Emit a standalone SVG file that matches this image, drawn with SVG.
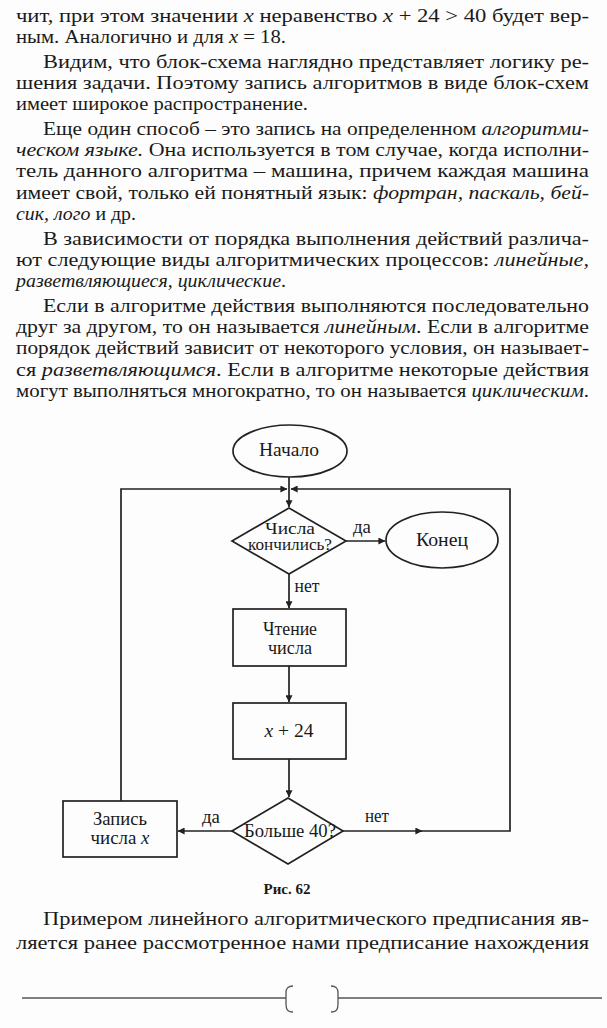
<svg xmlns="http://www.w3.org/2000/svg" width="607" height="1028" viewBox="0 0 607 1028">
<defs>
<style>
.body{font-family:"Liberation Serif","Times New Roman",serif;font-size:18.5px;fill:#1a1a1a}
.it{font-style:italic}
.lbl{font-family:"Liberation Serif","Times New Roman",serif;font-size:19px;fill:#1a1a1a;text-anchor:middle}
.sm{font-size:18px}
.xs{font-size:16px}
.shape{fill:none;stroke:#222;stroke-width:1.7}
.conn{fill:none;stroke:#222;stroke-width:1.7}
.cap{font-family:"Liberation Serif","Times New Roman",serif;font-size:15px;font-weight:bold;fill:#1a1a1a;text-anchor:middle}
.rule{fill:none;stroke:#555;stroke-width:1.3}
</style>
<marker id="ah" viewBox="0 0 10 10" refX="9.5" refY="5" markerWidth="9" markerHeight="7" markerUnits="userSpaceOnUse" orient="auto">
<path d="M0,0 L10,5 L0,10 z" fill="#222"/>
</marker>
</defs>
<rect width="607" height="1028" fill="#fdfdfd"/>

<g id="text-top" class="body">
<text x="16" y="22" textLength="573" lengthAdjust="spacingAndGlyphs">чит, при этом значении <tspan class="it">x</tspan> неравенство <tspan class="it">x</tspan> + 24 &gt; 40 будет вер-</text>
<text x="16" y="43" textLength="270" lengthAdjust="spacingAndGlyphs">ным. Аналогично и для <tspan class="it">x</tspan> = 18.</text>
<text x="43" y="68" textLength="546" lengthAdjust="spacingAndGlyphs">Видим, что блок-схема наглядно представляет логику ре-</text>
<text x="16" y="89" textLength="573" lengthAdjust="spacingAndGlyphs">шения задачи. Поэтому запись алгоритмов в виде блок-схем</text>
<text x="16" y="110" textLength="292" lengthAdjust="spacingAndGlyphs">имеет широкое распространение.</text>
<text x="43" y="135" textLength="546" lengthAdjust="spacingAndGlyphs">Еще один способ – это запись на определенном <tspan class="it">алгоритми-</tspan></text>
<text x="16" y="156" textLength="573" lengthAdjust="spacingAndGlyphs"><tspan class="it">ческом языке.</tspan> Она используется в том случае, когда исполни-</text>
<text x="16" y="177" textLength="573" lengthAdjust="spacingAndGlyphs">тель данного алгоритма – машина, причем каждая машина</text>
<text x="16" y="199" textLength="573" lengthAdjust="spacingAndGlyphs">имеет свой, только ей понятный язык: <tspan class="it">фортран, паскаль, бей-</tspan></text>
<text x="16" y="220" textLength="120" lengthAdjust="spacingAndGlyphs"><tspan class="it">сик, лого</tspan> и др.</text>
<text x="43" y="245" textLength="546" lengthAdjust="spacingAndGlyphs">В зависимости от порядка выполнения действий различа-</text>
<text x="16" y="266" textLength="573" lengthAdjust="spacingAndGlyphs">ют следующие виды алгоритмических процессов: <tspan class="it">линейные,</tspan></text>
<text x="16" y="287" textLength="270" lengthAdjust="spacingAndGlyphs"><tspan class="it">разветвляющиеся, циклические</tspan>.</text>
<text x="43" y="312" textLength="546" lengthAdjust="spacingAndGlyphs">Если в алгоритме действия выполняются последовательно</text>
<text x="16" y="333" textLength="573" lengthAdjust="spacingAndGlyphs">друг за другом, то он называется <tspan class="it">линейным</tspan>. Если в алгоритме</text>
<text x="16" y="354" textLength="573" lengthAdjust="spacingAndGlyphs">порядок действий зависит от некоторого условия, он называет-</text>
<text x="16" y="376" textLength="573" lengthAdjust="spacingAndGlyphs">ся <tspan class="it">разветвляющимся</tspan>. Если в алгоритме некоторые действия</text>
<text x="16" y="397" textLength="573" lengthAdjust="spacingAndGlyphs">могут выполняться многократно, то он называется <tspan class="it">циклическим</tspan>.</text>
</g>

<g id="connectors">
<path class="conn" d="M289,477 L289,507" marker-end="url(#ah)"/>
<path class="conn" d="M121,801 L121,489 L287,489" marker-end="url(#ah)"/>
<path class="conn" d="M343,831 L422,831" marker-end="url(#ah)"/>
<path class="conn" d="M420,831 L510,831 L510,489 L291,489" marker-end="url(#ah)"/>
<path class="conn" d="M346,541 L385,541" marker-end="url(#ah)"/>
<path class="conn" d="M289,573 L289,608" marker-end="url(#ah)"/>
<path class="conn" d="M289,666 L289,702" marker-end="url(#ah)"/>
<path class="conn" d="M289,759 L289,797" marker-end="url(#ah)"/>
<path class="conn" d="M232,831 L178,831" marker-end="url(#ah)"/>
<text class="lbl sm" x="362" y="533" textLength="18" lengthAdjust="spacingAndGlyphs">да</text>
<text class="lbl sm" x="307" y="592" textLength="25" lengthAdjust="spacingAndGlyphs">нет</text>
<text class="lbl sm" x="211" y="823" textLength="18" lengthAdjust="spacingAndGlyphs">да</text>
<text class="lbl sm" x="377" y="822" textLength="24" lengthAdjust="spacingAndGlyphs">нет</text>
</g>

<g id="start">
<ellipse class="shape" cx="290" cy="451" rx="57" ry="26"/>
<text class="lbl" x="289" y="456" textLength="60" lengthAdjust="spacingAndGlyphs">Начало</text>
</g>

<g id="check-end">
<polygon class="shape" points="289,508 346,541 289,574 232,541"/>
<text class="lbl xs" x="290" y="534" textLength="50" lengthAdjust="spacingAndGlyphs">Числа</text>
<text class="lbl xs" x="290" y="550" textLength="84" lengthAdjust="spacingAndGlyphs">кончились?</text>
</g>

<g id="end">
<ellipse class="shape" cx="442" cy="540" rx="56" ry="28"/>
<text class="lbl" x="442" y="546" textLength="52" lengthAdjust="spacingAndGlyphs">Конец</text>
</g>

<g id="read">
<rect class="shape" x="233" y="609" width="113" height="57"/>
<text class="lbl" x="290" y="635" textLength="54" lengthAdjust="spacingAndGlyphs">Чтение</text>
<text class="lbl" x="290" y="654" textLength="44" lengthAdjust="spacingAndGlyphs">числа</text>
</g>

<g id="add">
<rect class="shape" x="233" y="703" width="113" height="56"/>
<text class="lbl" x="289" y="737" textLength="49" lengthAdjust="spacingAndGlyphs"><tspan class="it">x</tspan> + 24</text>
</g>

<g id="compare">
<polygon class="shape" points="288,798 343,831 288,864 232,831"/>
<text class="lbl sm" x="290" y="837" textLength="92" lengthAdjust="spacingAndGlyphs">Больше 40?</text>
</g>

<g id="write">
<rect class="shape" x="63" y="801" width="114" height="56"/>
<text class="lbl" x="120" y="825" textLength="54" lengthAdjust="spacingAndGlyphs">Запись</text>
<text class="lbl" x="120" y="844" textLength="59" lengthAdjust="spacingAndGlyphs">числа <tspan class="it">x</tspan></text>
</g>

<g id="caption">
<text class="cap" x="287" y="894">Рис. 62</text>
</g>

<g id="text-bottom" class="body">
<text x="43" y="925" textLength="546" lengthAdjust="spacingAndGlyphs">Примером линейного алгоритмического предписания яв-</text>
<text x="16" y="949" textLength="573" lengthAdjust="spacingAndGlyphs">ляется ранее рассмотренное нами предписание нахождения</text>
</g>

<g id="footer">
<path class="rule" d="M22,998 L286,998"/>
<path class="rule" d="M293,986 C287,986 286,989 286,993 L286,1004 C286,1009 287,1012 293,1012"/>
<path class="rule" d="M331,986 C337,986 338,989 338,993 L338,1004 C338,1009 337,1012 331,1012"/>
<path class="rule" d="M338,998 L602,998"/>
</g>
</svg>
